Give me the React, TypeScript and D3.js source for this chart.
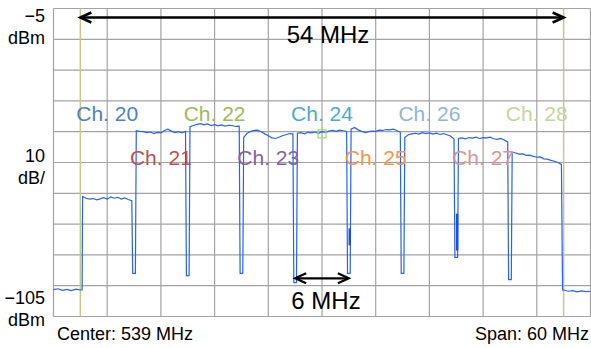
import React from "react";
import * as d3 from "d3";

// spectrum analyser settings
const centerMHz = 539;
const spanMHz = 60;
const refLevel = -5;
const dbPerDiv = 10;
const divisions = 10;

// UHF channels shown (Japan plan: ch N low edge = 470 + 6 * (N - 13))
const channels = [20, 21, 22, 23, 24, 25, 26, 27, 28];
const channelColors = [
  "#4F81BD",
  "#C0504D",
  "#9BBB59",
  "#8064A2",
  "#4BACC6",
  "#F79646",
  "#95B3D7",
  "#D99694",
  "#C3D69B",
];

// trace levels (dBm)
const floorLeft = [-96.3, -96.0, -96.5, -96.2, -96.6, -96.1, -96.4];
const floorRight = [-96.4, -96.8, -96.6, -97.0, -96.7, -96.9, -96.8];
const chLevels = [
  [-66.0, -66.6, -66.9, -66.7, -67.1, -66.8, -66.4, -66.9, -66.2, -66.6, -66.3, -66.9, -66.5, -67.0, -67.4],
  [-44.7, -44.9, -45.0, -45.3, -45.1, -45.6, -45.2, -45.4, -44.6, -44.2, -44.8, -45.3, -45.0, -45.4, -44.9],
  [-43.4, -43.0, -42.6, -42.4, -42.8, -42.5, -43.0, -42.7, -43.1, -42.8, -43.2, -42.9, -43.0, -43.3, -43.2],
  [-46.9, -45.5, -44.9, -44.6, -44.5, -45.0, -45.7, -46.3, -47.0, -47.2, -46.8, -46.3, -46.0, -45.6, -45.7],
  [-45.5, -45.3, -45.7, -45.2, -45.4, -45.1, -45.5, -45.0, -45.2, -44.8, -44.6, -44.9, -44.5, -44.7, -44.9],
  [-44.2, -43.6, -44.4, -44.9, -45.3, -45.0, -44.8, -44.9, -44.5, -44.6, -44.3, -44.4, -44.2, -44.6, -45.2],
  [-46.9, -46.0, -45.7, -45.5, -45.8, -45.3, -45.6, -45.4, -45.8, -45.5, -45.9, -45.6, -46.0, -46.4, -47.4],
  [-47.2, -47.0, -47.3, -46.9, -47.1, -46.8, -47.2, -46.9, -47.0, -46.8, -47.3, -47.5, -47.2, -47.7, -48.3],
  [-51.6, -51.9, -52.3, -52.2, -52.7, -52.6, -53.0, -53.3, -53.2, -53.8, -53.9, -54.3, -54.6, -55.0, -55.6],
];
// bottom of the notch between neighbouring channels
const dipDepths = [-91.0, -91.7, -91.0, -94.0, -91.0, -91.0, -85.8, -93.0];
// heavier sweep overlays inside two notches: [MHz, top dBm, bottom dBm]
const spurs = [
  [542.1, -76.4, -81.9],
  [554.1, -71.6, -83.6],
];
const markerMHz = 539;
const markerDb = -45.7;

const W = 591;
const H = 348;
const plot = { left: 53.5, right: 590.5, top: 8.5, bottom: 316.5 };
const font = "'Liberation Sans', Arial, sans-serif";

const chLow = (ch: number) => 470 + 6 * (ch - 13);

export default function App() {
  const fStart = centerMHz - spanMHz / 2;
  const fStop = centerMHz + spanMHz / 2;
  const x = d3.scaleLinear().domain([fStart, fStop]).range([plot.left, plot.right]);
  const y = d3
    .scaleLinear()
    .domain([refLevel - dbPerDiv * divisions, refLevel])
    .range([plot.bottom, plot.top]);

  // build the sweep
  const pts: [number, number][] = [];
  floorLeft.forEach((v, i) => pts.push([fStart + i * 0.5, v]));
  pts.push([chLow(channels[0]) + 0.2, floorLeft[floorLeft.length - 1]]);
  channels.forEach((ch, i) => {
    const lo = chLow(ch);
    const lv = chLevels[i];
    lv.forEach((v, k) => pts.push([lo + 0.25 + (k * 5.5) / (lv.length - 1), v]));
    if (i < channels.length - 1) {
      const edge = lo + 6;
      pts.push([edge - 0.15, dipDepths[i]]);
      pts.push([edge + 0.15, dipDepths[i]]);
    }
  });
  const lastEdge = chLow(channels[channels.length - 1]) + 6;
  pts.push([lastEdge - 0.12, floorRight[0]]);
  floorRight.forEach((v, i) => pts.push([lastEdge + i * 0.5, v]));

  const line = d3
    .line<[number, number]>()
    .x((d) => x(d[0]))
    .y((d) => y(d[1]));

  const xGrid = d3.range(divisions + 1).map((i) => fStart + (i * spanMHz) / divisions);
  const yGrid = d3.range(divisions + 1).map((i) => refLevel - i * dbPerDiv);

  const bandLo = chLow(channels[0]);
  const bandHi = lastEdge;
  const arrowY = plot.top + 9;
  const arrow6Y = y(-92.6);
  const ch24 = chLow(24);

  const chevron = (tipX: number, tipY: number, dir: number) =>
    `M${tipX + dir * 11},${tipY - 5} L${tipX},${tipY} L${tipX + dir * 11},${tipY + 5}`;

  return (
    <svg
      width={W}
      height={H}
      style={{ position: "absolute", left: 0, top: 0, background: "#fff" }}
      fontFamily={font}
    >
      <rect width={W} height={H} fill="#fff" />
      {/* grid */}
      <g stroke="#a3a3a3" strokeWidth={1.2}>
        {xGrid.map((f) => (
          <line key={"x" + f} x1={x(f)} x2={x(f)} y1={plot.top} y2={plot.bottom} />
        ))}
        {yGrid.map((d) => (
          <line key={"y" + d} x1={plot.left} x2={plot.right} y1={y(d)} y2={y(d)} />
        ))}
      </g>
      {/* occupied band edges */}
      <g stroke="#c9c58f" strokeWidth={1.5}>
        <line x1={x(bandLo)} x2={x(bandLo)} y1={plot.top} y2={plot.bottom} />
        <line x1={x(bandHi)} x2={x(bandHi)} y1={plot.top} y2={plot.bottom} />
      </g>
      {/* trace */}
      <path d={line(pts) || ""} fill="none" stroke="#2563f2" strokeWidth={1.2} />
      {spurs.map((s, i) => (
        <line
          key={i}
          x1={x(s[0])}
          x2={x(s[0])}
          y1={y(s[1])}
          y2={y(s[2])}
          stroke="#1d4fe6"
          strokeWidth={2.4}
        />
      ))}
      <rect
        x={x(markerMHz) - 4}
        y={y(markerDb) - 4}
        width={8}
        height={8}
        fill="none"
        stroke="#9be26a"
        strokeWidth={1.3}
      />
      {/* channel labels */}
      {channels.map((ch, i) => (
        <text
          key={ch}
          x={x(chLow(ch) + 3)}
          y={i % 2 === 0 ? 121 : 165}
          textAnchor="middle"
          fontSize={21}
          fill={channelColors[i]}
        >
          {`Ch. ${ch}`}
        </text>
      ))}
      {/* 54 MHz annotation */}
      <g stroke="#000" fill="none" strokeWidth={2.6}>
        <line x1={x(bandLo) + 1} x2={x(bandHi) - 1} y1={arrowY} y2={arrowY} />
        <path d={chevron(x(bandLo), arrowY, 1)} />
        <path d={chevron(x(bandHi), arrowY, -1)} />
      </g>
      <text x={x(centerMHz) + 6} y={43} textAnchor="middle" fontSize={24} fill="#000">
        54 MHz
      </text>
      {/* 6 MHz annotation */}
      <g stroke="#000" fill="none" strokeWidth={2.2}>
        <line x1={x(ch24) + 1} x2={x(ch24 + 6) - 1} y1={arrow6Y} y2={arrow6Y} />
        <path d={chevron(x(ch24), arrow6Y, 1)} />
        <path d={chevron(x(ch24 + 6), arrow6Y, -1)} />
      </g>
      <text x={x(ch24 + 3) + 4} y={309} textAnchor="middle" fontSize={24} fill="#000">
        6 MHz
      </text>
      {/* amplitude labels */}
      <g fontSize={18} textAnchor="end" fill="#000">
        <text x={45} y={22}>−5</text>
        <text x={45} y={44}>dBm</text>
        <text x={45} y={162}>10</text>
        <text x={45} y={184}>dB/</text>
        <text x={45} y={304}>−105</text>
        <text x={45} y={326}>dBm</text>
      </g>
      <text x={57} y={340} fontSize={18} fill="#000">
        Center: 539 MHz
      </text>
      <text x={589} y={340} fontSize={18} textAnchor="end" fill="#000">
        Span: 60 MHz
      </text>
    </svg>
  );
}
